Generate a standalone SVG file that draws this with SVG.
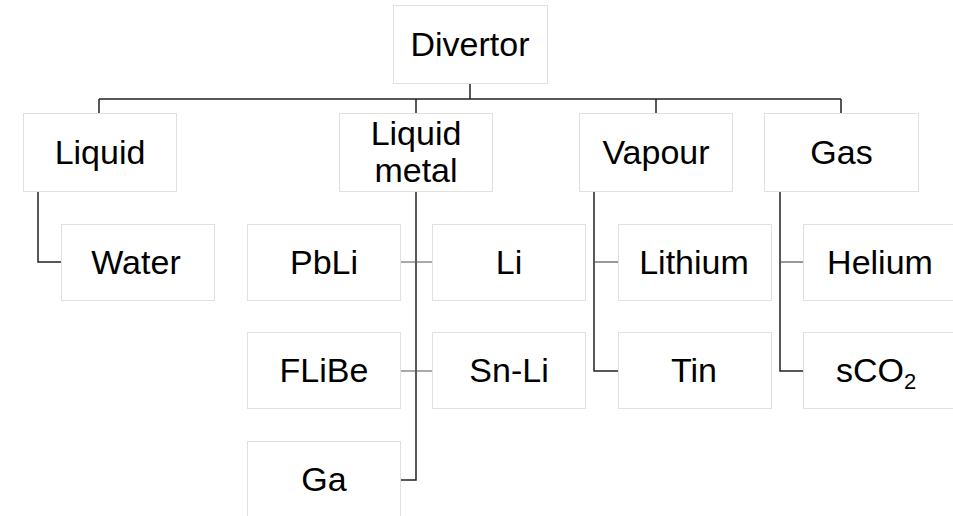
<svg xmlns="http://www.w3.org/2000/svg" width="953" height="516" viewBox="0 0 953 516">
<style>
.box{fill:#fff;stroke:#e0e0e0;stroke-width:1}
.t{font-family:"Liberation Sans",Arial,sans-serif;font-size:34px;fill:#000;text-anchor:middle}
.c{fill:none;stroke:#222;stroke-width:1.5}
.s{fill:none;stroke:#555;stroke-width:1.2}
</style>
<rect width="953" height="516" fill="#fff"/>
<g id="connectors">
<path class="c" d="M470 83V99M99 99H841M99 99V114M416 99V114M656 99V114M841 99V114"/>
<path class="c" d="M38 192V262H61"/>
<path class="c" d="M416 192V480H401"/>
<path class="s" d="M401 262H432M401 371H432"/>
<path class="c" d="M594 192V371H618"/>
<path class="s" d="M594 262H618"/>
<path class="c" d="M780 192V371H803"/>
<path class="s" d="M780 262H803"/>
</g>
<g id="divertor"><rect class="box" x="393.5" y="5.5" width="154" height="78"/><text class="t" x="470" y="56">Divertor</text></g>
<g id="liquid"><rect class="box" x="23.5" y="113.5" width="153" height="78"/><text class="t" x="100" y="164">Liquid</text></g>
<g id="liquid-metal"><rect class="box" x="339.5" y="113.5" width="153" height="78"/><text class="t" x="416" y="145">Liquid</text><text class="t" x="416" y="182">metal</text></g>
<g id="vapour"><rect class="box" x="579.5" y="113.5" width="153" height="78"/><text class="t" x="656" y="164">Vapour</text></g>
<g id="gas"><rect class="box" x="764.5" y="113.5" width="154" height="78"/><text class="t" x="841.5" y="164">Gas</text></g>
<g id="water"><rect class="box" x="61.5" y="224.5" width="153" height="76"/><text class="t" x="136" y="274">Water</text></g>
<g id="pbli"><rect class="box" x="247.5" y="224.5" width="153" height="76"/><text class="t" x="324" y="274">PbLi</text></g>
<g id="li"><rect class="box" x="432.5" y="224.5" width="153" height="76"/><text class="t" x="509" y="274">Li</text></g>
<g id="lithium"><rect class="box" x="618.5" y="224.5" width="153" height="76"/><text class="t" x="694" y="274">Lithium</text></g>
<g id="helium"><rect class="box" x="803.5" y="224.5" width="160" height="76"/><text class="t" x="880" y="274">Helium</text></g>
<g id="flibe"><rect class="box" x="247.5" y="332.5" width="153" height="76"/><text class="t" x="324" y="382">FLiBe</text></g>
<g id="snli"><rect class="box" x="432.5" y="332.5" width="153" height="76"/><text class="t" x="509" y="382">Sn-Li</text></g>
<g id="tin"><rect class="box" x="618.5" y="332.5" width="153" height="76"/><text class="t" x="694" y="382">Tin</text></g>
<g id="sco2"><rect class="box" x="803.5" y="332.5" width="160" height="76"/><text class="t" x="876" y="382">sCO<tspan font-size="22" dy="7">2</tspan></text></g>
<g id="ga"><rect class="box" x="247.5" y="441.5" width="153" height="90"/><text class="t" x="324" y="491">Ga</text></g>
</svg>
